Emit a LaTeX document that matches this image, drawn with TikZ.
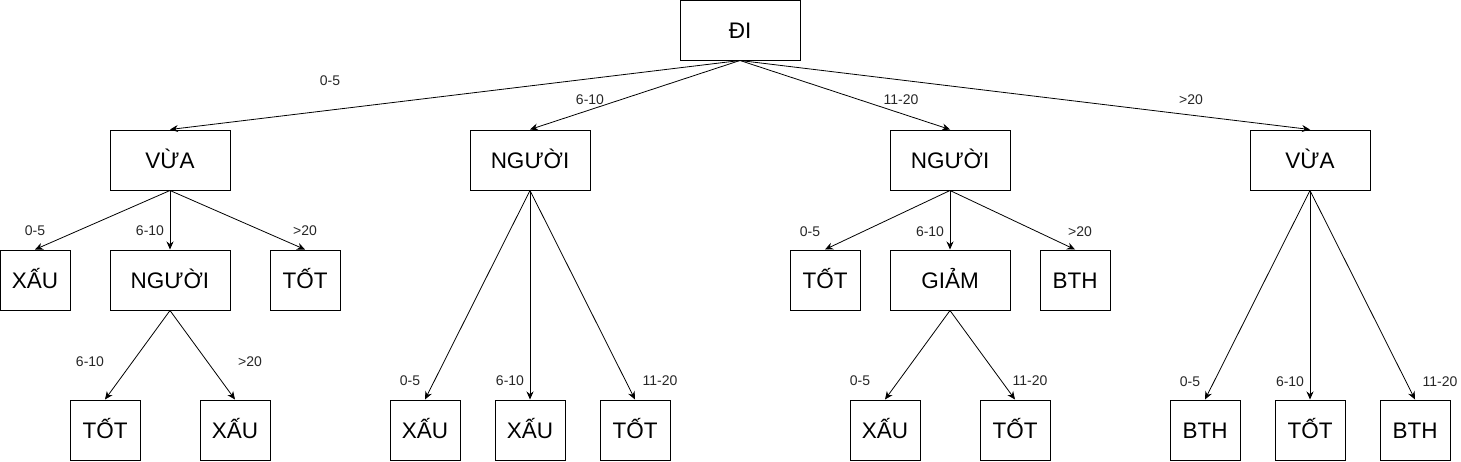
\documentclass[tikz,border=0pt]{standalone}
\usepackage{fontspec}
\setmainfont{Liberation Sans}
\usetikzlibrary{arrows.meta}
\begin{document}
\begin{tikzpicture}[x=1pt, y=-1pt,
  box/.style={draw, line width=1pt, minimum width=120pt, minimum height=60pt, inner sep=0pt, text height=17.5pt, text depth=0pt, font=\fontsize{22.5}{22.5}\selectfont},
  leaf/.style={box, minimum width=70pt},
  lbl/.style={font=\fontsize{14}{14}\selectfont, text=black!85, inner sep=0pt},
  edge/.style={-{Stealth[length=8pt,width=7pt]}, line width=0.8pt}]
\useasboundingbox (0,0) rectangle (1461,461);
% root and first level
\node[box] (root) at (740, 30) {ĐI};
\node[box] (vuaL) at (170, 160) {VỪA};
\node[box] (nguoiL) at (530, 160) {NGƯỜI};
\node[box] (nguoiR) at (950, 160) {NGƯỜI};
\node[box] (vuaR) at (1310, 160) {VỪA};
% second level
\node[leaf] (xauA) at (35, 280) {XẤU};
\node[box] (nguoiA) at (170, 280) {NGƯỜI};
\node[leaf] (totA) at (305, 280) {TỐT};
\node[leaf] (totB) at (825, 280) {TỐT};
\node[box] (giam) at (950, 280) {GIẢM};
\node[leaf] (bthA) at (1075, 280) {BTH};
% leaves
\node[leaf] (totC) at (105, 430) {TỐT};
\node[leaf] (xauB) at (235, 430) {XẤU};
\node[leaf] (xauC) at (425, 430) {XẤU};
\node[leaf] (xauD) at (530, 430) {XẤU};
\node[leaf] (totD) at (635, 430) {TỐT};
\node[leaf] (xauE) at (885, 430) {XẤU};
\node[leaf] (totE) at (1015, 430) {TỐT};
\node[leaf] (bthB) at (1205, 430) {BTH};
\node[leaf] (totF) at (1310, 430) {TỐT};
\node[leaf] (bthC) at (1415, 430) {BTH};
% connectors
\draw[edge] (root.south) -- (vuaL.north);
\draw[edge] (root.south) -- (nguoiL.north);
\draw[edge] (root.south) -- (nguoiR.north);
\draw[edge] (root.south) -- (vuaR.north);
\draw[edge] (vuaL.south) -- (xauA.north);
\draw[edge] (vuaL.south) -- (nguoiA.north);
\draw[edge] (vuaL.south) -- (totA.north);
\draw[edge] (nguoiA.south) -- (totC.north);
\draw[edge] (nguoiA.south) -- (xauB.north);
\draw[edge] (nguoiL.south) -- (xauC.north);
\draw[edge] (nguoiL.south) -- (xauD.north);
\draw[edge] (nguoiL.south) -- (totD.north);
\draw[edge] (nguoiR.south) -- (totB.north);
\draw[edge] (nguoiR.south) -- (giam.north);
\draw[edge] (nguoiR.south) -- (bthA.north);
\draw[edge] (giam.south) -- (xauE.north);
\draw[edge] (giam.south) -- (totE.north);
\draw[edge] (vuaR.south) -- (bthB.north);
\draw[edge] (vuaR.south) -- (totF.north);
\draw[edge] (vuaR.south) -- (bthC.north);
% labels
\node[lbl] (l1) at (330, 81) {0-5};
\node[lbl] (l2) at (590, 100) {6-10};
\node[lbl] (l3) at (901, 100) {11-20};
\node[lbl] (l4) at (1191, 100) {>20};
\node[lbl] (l5) at (35, 231) {0-5};
\node[lbl] (l6) at (150, 231) {6-10};
\node[lbl] (l7) at (305, 231) {>20};
\node[lbl] (l8) at (90, 362) {6-10};
\node[lbl] (l9) at (250, 362) {>20};
\node[lbl] (l10) at (410, 381) {0-5};
\node[lbl] (l11) at (510, 381) {6-10};
\node[lbl] (l12) at (660, 381) {11-20};
\node[lbl] (l13) at (810, 232) {0-5};
\node[lbl] (l14) at (930, 232) {6-10};
\node[lbl] (l15) at (1080, 232) {>20};
\node[lbl] (l16) at (860, 381) {0-5};
\node[lbl] (l17) at (1030, 381) {11-20};
\node[lbl] (l18) at (1190, 382) {0-5};
\node[lbl] (l19) at (1290, 382) {6-10};
\node[lbl] (l20) at (1440, 382) {11-20};
\end{tikzpicture}
\end{document}
